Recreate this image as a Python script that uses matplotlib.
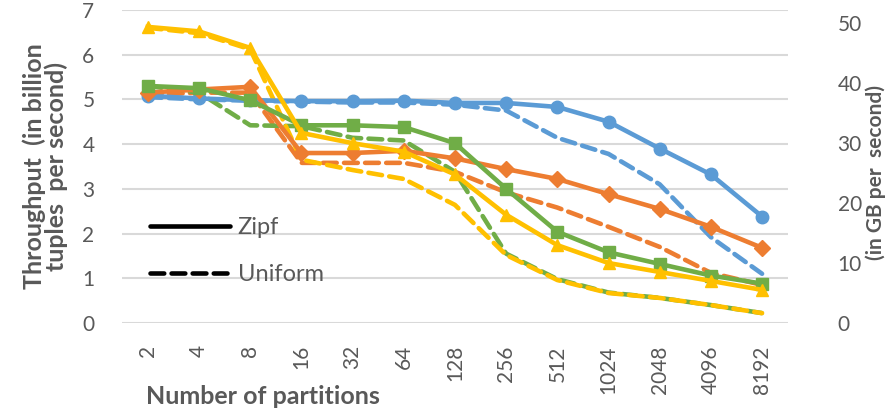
import matplotlib.pyplot as plt
from matplotlib.lines import Line2D

partitions = ["2", "4", "8", "16", "32", "64", "128", "256", "512", "1024", "2048", "4096", "8192"]

blue_zipf = [5.08, 5.02, 4.98, 4.96, 4.96, 4.97, 4.92, 4.92, 4.83, 4.5, 3.9, 3.32, 2.38]
blue_unif = [5.05, 5.0, 4.97, 4.95, 4.93, 4.93, 4.88, 4.75, 4.14, 3.78, 3.1, 1.92, 1.1]
orange_zipf = [5.15, 5.22, 5.28, 3.8, 3.8, 3.85, 3.68, 3.44, 3.22, 2.88, 2.55, 2.15, 1.68]
orange_unif = [5.1, 5.15, 5.15, 3.58, 3.58, 3.58, 3.38, 2.92, 2.58, 2.15, 1.7, 1.12, 0.85]
green_zipf = [5.3, 5.25, 4.98, 4.42, 4.42, 4.38, 4.02, 3.0, 2.04, 1.58, 1.32, 1.06, 0.88]
green_unif = [5.3, 5.15, 4.42, 4.4, 4.14, 4.08, 3.38, 1.55, 0.98, 0.68, 0.56, 0.4, 0.22]
yellow_zipf = [6.62, 6.52, 6.15, 4.25, 4.02, 3.83, 3.32, 2.42, 1.74, 1.34, 1.14, 0.94, 0.74]
yellow_unif = [6.6, 6.48, 6.12, 3.65, 3.42, 3.22, 2.64, 1.52, 0.96, 0.67, 0.56, 0.4, 0.22]

gb_per_tuple = 8 / 1.073741824  # billion tuples/s -> GB/s (8-byte tuples)

plt.rcParams['font.family'] = ['Lato', 'DejaVu Sans']
grey = '#595959'

fig = plt.figure(figsize=(8.86, 4.13), dpi=100)
ax = fig.add_axes([0.138, 0.218, 0.751, 0.758])
x = list(range(len(partitions)))

series = [
    (blue_zipf, blue_unif, '#5B9BD5', 'o'),
    (orange_zipf, orange_unif, '#ED7D31', 'D'),
    (green_zipf, green_unif, '#70AD47', 's'),
    (yellow_zipf, yellow_unif, '#FFC000', '^'),
]
for zipf, unif, col, mk in series:
    ax.plot(x, unif, color=col, lw=3.3, ls=(0, (3, 1.6)), dash_capstyle='round', zorder=2)
for zipf, unif, col, mk in series:
    ax.plot(x, zipf, color=col, lw=3.3, marker=mk, ms=9 if mk != 'D' else 8, zorder=3)

ax.set_xlim(-0.5, len(partitions) - 0.5)
ax.set_ylim(0, 7)
ax.set_yticks(range(0, 8))
ax.set_xticks(x)
ax.set_xticklabels(partitions, rotation=90, va='top', ha='center')
ax.tick_params(length=0, labelsize=15, colors=grey)
ax.tick_params(axis='x', pad=16)
ax.tick_params(axis='y', pad=20)
ax.grid(axis='y', color='#D9D9D9', lw=1.5)
ax.set_axisbelow(True)
for s in ax.spines.values():
    s.set_visible(False)

ax.set_ylabel('Throughput  (in billion\ntuples  per second)', fontsize=18, fontweight='bold',
              color=grey, labelpad=10, linespacing=0.95)
ax.set_xlabel('Number of partitions', fontsize=18, fontweight='bold', color=grey)
ax.xaxis.set_label_coords(0.035, -0.236)
ax.xaxis.label.set_ha('left')
ax.xaxis.label.set_va('center')

ax2 = ax.twinx()
ax2.set_ylim(0, 7 * gb_per_tuple)
ax2.set_yticks(range(0, 60, 10))
ax2.tick_params(length=0, labelsize=15, colors=grey, pad=36)
for s in ax2.spines.values():
    s.set_visible(False)
fig.text(876 / 886, 1 - 172 / 413, '(in GB per  second)', fontsize=15, fontweight='bold',
         color=grey, rotation=90, ha='center', va='center')

handles = [Line2D([], [], color='black', lw=3.3, solid_capstyle='round'),
           Line2D([], [], color='black', lw=3.3, ls=(0, (3, 1.6)), dash_capstyle='round')]
ax.legend(handles, ['Zipf', 'Uniform'], loc='center left', bbox_to_anchor=(0.01, 0.23),
          frameon=False, handlelength=3.4, labelspacing=1.1, handletextpad=0.3,
          prop={'size': 17}, labelcolor=grey)

fig.savefig('out.png', dpi=100)
